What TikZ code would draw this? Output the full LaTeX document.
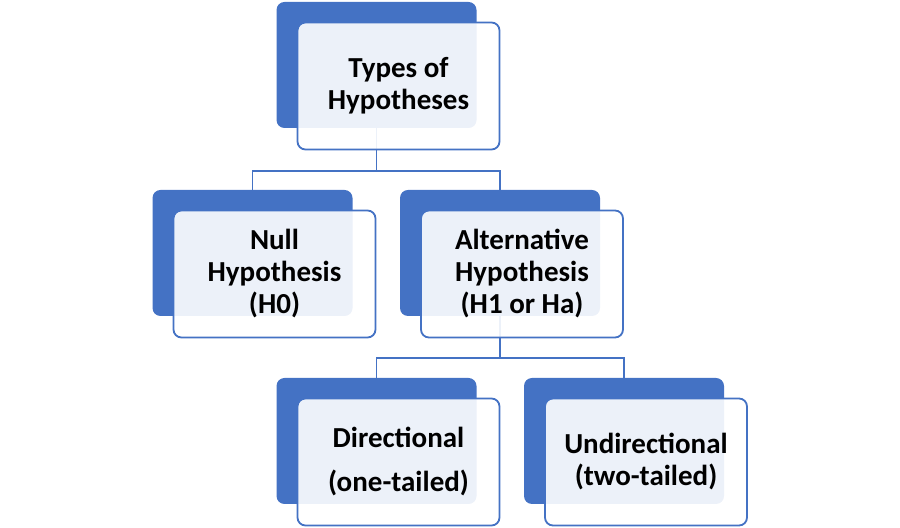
\documentclass[tikz,border=0pt]{standalone}
\usepackage{fontspec}
\setmainfont{Carlito}
\usepackage{tikz}
\usetikzlibrary{calc}
\definecolor{offblue}{HTML}{4472C4}

\begin{document}
\begin{tikzpicture}[x=0.5pt,y=-0.5pt,
    backbox/.style={rectangle,rounded corners=4pt,fill=offblue,minimum width=100pt,minimum height=63pt},
    frontbox/.style={rectangle,rounded corners=4pt,draw=offblue,line width=0.9pt,fill=white,fill opacity=0.9,text opacity=1,
        minimum width=101pt,minimum height=63.5pt,align=center,font=\fontsize{14.5}{16}\selectfont\bfseries},
    link/.style={draw=offblue,line width=0.9pt}]

            \useasboundingbox (0,0) rectangle (900,528);

            % Define the displacement as a coordinate
            \coordinate (displacement) at (22,21);

            \node[backbox] (bTypes) at (376.5,65) {};
            \node[backbox] (bNull) at (252.5,253) {};
            \node[backbox] (bAlt) at (500,253) {};
            \node[backbox] (bDir) at (376.5,441) {};
            \node[backbox] (bUndir) at (624,441) {};

            % connectors (behind the light boxes)
            \coordinate (bus1) at ($(bTypes.south)+(0,43)$);
            \coordinate (bus2) at ($(bAlt.south)+(0,42)$);
            \draw[link] (bTypes.south) -- (bus1);
            \draw[link] (bNull.north) |- (bus1) -| (bAlt.north);
            \draw[link] (bAlt.south) -- (bus2);
            \draw[link] (bDir.north) |- (bus2) -| (bUndir.north);

            \node[frontbox] (fTypes) at ($(bTypes)+(displacement)$) {Types of\\Hypotheses};
            \node[frontbox] (fNull) at ($(bNull)+(displacement)$) {Null\\Hypothesis\\(H0)};
            \node[frontbox] (fAlt) at ($(bAlt)+(displacement)$) {Alternative\\Hypothesis\\(H1 or Ha)};
            \node[frontbox] (fDir) at ($(bDir)+(displacement)$) {Directional\\[6pt](one-tailed)};
            \node[frontbox] (fUndir) at ($(bUndir)+(displacement)$) {Undirectional\\(two-tailed)};

\end{tikzpicture}
\end{document}
